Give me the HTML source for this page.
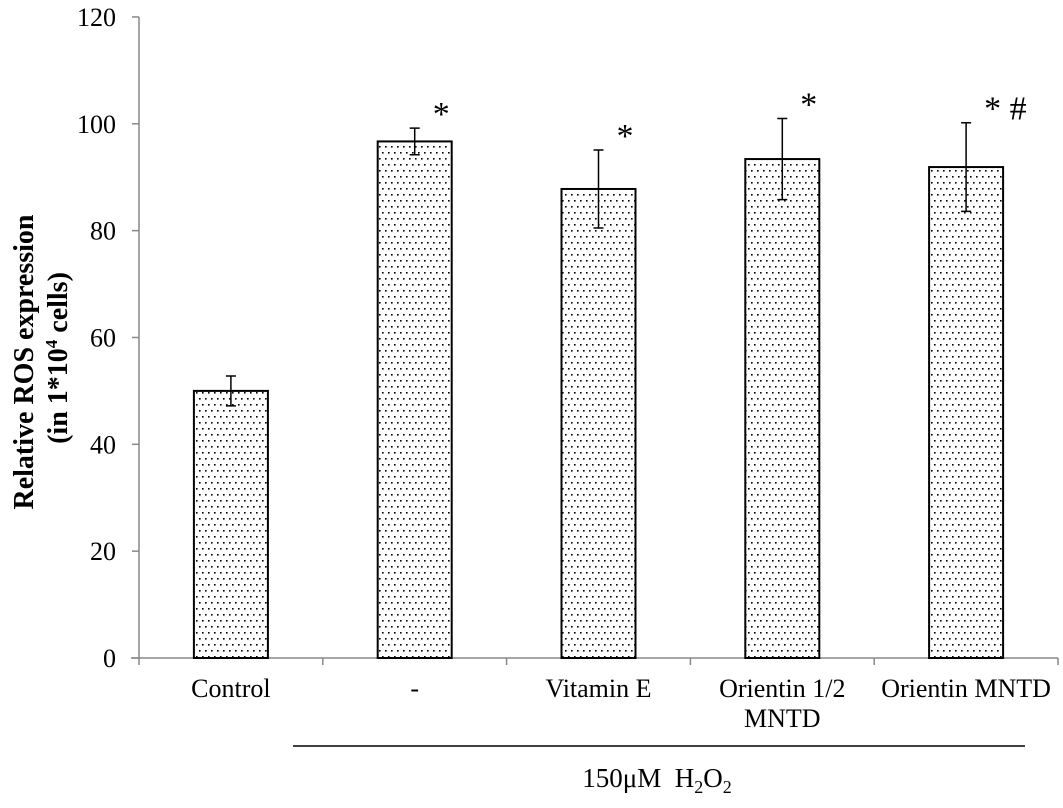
<!DOCTYPE html>
<html><head><meta charset="utf-8"><style>
body{margin:0;background:#fff}
svg text{font-family:"Liberation Serif",serif;fill:#000}
</style></head><body>
<svg width="1063" height="803">
<defs>
<pattern id="dots" width="6" height="12" patternUnits="userSpaceOnUse">
<rect width="6" height="12" fill="#fff"/>
<rect x="1" y="2" width="1.6" height="1.6" fill="#000"/>
<rect x="4" y="8" width="1.6" height="1.6" fill="#000"/>
</pattern>
</defs>
<g id="g"></g>
<text transform="translate(33,362) rotate(-90)" text-anchor="middle" font-size="28" font-weight="bold">Relative ROS expression</text>
<text transform="translate(67,358) rotate(-90)" text-anchor="middle" font-size="28" font-weight="bold">(in 1*10<tspan font-size="17" dy="-10">4</tspan><tspan dy="10"> cells)</tspan></text>
<line x1="293" y1="746" x2="1025" y2="746" stroke="#000" stroke-width="1.5"/>
<text x="657" y="787" text-anchor="middle" font-size="27" xml:space="preserve">150μM  H<tspan font-size="18" dy="6">2</tspan><tspan dy="-6">O</tspan><tspan font-size="18" dy="6">2</tspan></text>
</svg>
<script>
const categories=["Control","-","Vitamin E","Orientin 1/2|MNTD","Orientin MNTD"];
const values=[50,96.7,87.8,93.4,91.9];
const errors=[2.8,2.5,7.3,7.6,8.3];
const marks=["","*","*","*","* #"];
const yTicks=[0,20,40,60,80,100,120];
const X0=139,X1=1058,Y0=658,PPU=5.342;
const cw=(X1-X0)/categories.length;
const y=v=>Y0-v*PPU;
const xc=i=>X0+cw*(i+0.5);
const g=document.getElementById('g');
const NS="http://www.w3.org/2000/svg";
function el(t,a,txt){const e=document.createElementNS(NS,t);for(const k in a)e.setAttribute(k,a[k]);if(txt!=null)e.textContent=txt;g.appendChild(e);return e;}
let ax=el('line',{x1:X0,y1:y(120),x2:X0,y2:Y0,stroke:'#888','stroke-width':1.5});


yTicks.forEach(t=>{
 let l=el('line',{x1:X0-7,y1:y(t),x2:X0,y2:y(t),stroke:'#888','stroke-width':1.5});
 
 
 let tx=el('text',{x:X0-23,y:y(t)+9,'text-anchor':'end','font-size':26},t);
 
 
});
let xa=el('line',{x1:X0-8,y1:Y0,x2:X1,y2:Y0,stroke:'#888','stroke-width':1.5});


for(let i=0;i<=categories.length;i++){
 let l=el('line',{x1:X0+cw*i,y1:Y0,x2:X0+cw*i,y2:Y0+7,stroke:'#888','stroke-width':1.5});
 
 
}
const bw=74;
categories.forEach((c,i)=>{
 const cx=xc(i);
 let b=el('rect',{x:cx-bw/2,y:y(values[i]),width:bw,height:Y0-y(values[i]),fill:'url(#dots)',stroke:'#000','stroke-width':2});
 
 
 const t=y(values[i]+errors[i]),bt=y(values[i]-errors[i]);
 let e=el('path',{d:`M${cx},${t}V${bt}M${cx-5},${t}H${cx+5}M${cx-5},${bt}H${cx+5}`,stroke:'#000','stroke-width':1.5,fill:'none'});
 
 
 if(marks[i]){
  let m=el('text',{x:cx+18,y:t-3,'font-size':34},marks[i]);
  
  
 }
 c.split('|').forEach((ln,k)=>{
  let tx=el('text',{x:cx,y:697+k*30,'text-anchor':'middle','font-size':26},ln);
  
  
 });
});
</script>
</body></html>
